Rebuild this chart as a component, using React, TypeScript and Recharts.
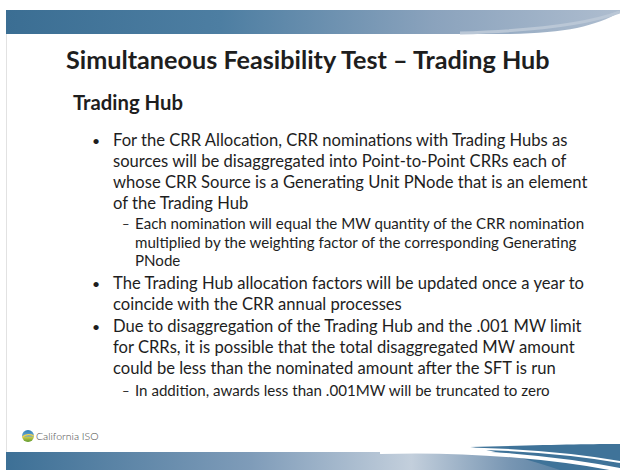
import { ComposedChart, Customized } from 'recharts'

const slideTitle = 'Simultaneous Feasibility Test – Trading Hub'
const sectionTitle = 'Trading Hub'

const bulletAllocation = [
  'For the CRR Allocation, CRR nominations with Trading Hubs as',
  'sources will be disaggregated into Point-to-Point CRRs each of',
  'whose CRR Source is a Generating Unit PNode that is an element',
  'of the Trading Hub',
]
const subNomination = [
  'Each nomination will equal the MW quantity of the CRR nomination',
  'multiplied by the weighting factor of the corresponding Generating',
  'PNode',
]
const bulletFactors = [
  'The Trading Hub allocation factors will be updated once a year to',
  'coincide with the CRR annual processes',
]
const bulletLimit = [
  'Due to disaggregation of the Trading Hub and the .001 MW limit',
  'for CRRs, it is possible that the total disaggregated MW amount',
  'could be less than the nominated amount after the SFT is run',
]
const subTruncate = ['In addition, awards less than .001MW will be truncated to zero']

const logoText = 'California ISO'

const FONT = "Lato, 'Open Sans', sans-serif"
const TEXT = '#1e1e1e'

type Block = { lines: string[]; level: 1 | 2; top: number }

const blocks: Block[] = [
  { lines: bulletAllocation, level: 1, top: 146 },
  { lines: subNomination, level: 2, top: 229 },
  { lines: bulletFactors, level: 1, top: 289 },
  { lines: bulletLimit, level: 1, top: 332 },
  { lines: subTruncate, level: 2, top: 396 },
]

function Slide() {
  return (
    <g>
      <defs>
        <linearGradient id="topBand" x1="0" y1="0" x2="1" y2="0">
          <stop offset="0%" stopColor="#3b6e93" />
          <stop offset="35%" stopColor="#4d7ea2" />
          <stop offset="70%" stopColor="#8ba3bd" />
          <stop offset="100%" stopColor="#aebdcf" />
        </linearGradient>
        <linearGradient id="botBand" x1="0" y1="0" x2="1" y2="0">
          <stop offset="0%" stopColor="#3d7096" />
          <stop offset="40%" stopColor="#7f9cb9" />
          <stop offset="66%" stopColor="#c3cfdc" />
          <stop offset="82%" stopColor="#7896b3" />
          <stop offset="100%" stopColor="#386b91" />
        </linearGradient>
        <linearGradient id="globe" x1="0" y1="0" x2="0" y2="1">
          <stop offset="0%" stopColor="#2f7fb8" />
          <stop offset="50%" stopColor="#6aa8d0" />
          <stop offset="60%" stopColor="#c9c94a" />
          <stop offset="100%" stopColor="#5c9a2e" />
        </linearGradient>
      </defs>
      <rect x={0} y={0} width={620} height={470} fill="#ffffff" />
      <line x1={6.5} y1={34} x2={6.5} y2={452} stroke="#e2e2e2" />
      <path d="M6,10 L620,10 L620,12 C596,26 566,33 510,34 L6,34 Z" fill="url(#topBand)" />
      <path d="M460,33 C535,31 588,24 620,12" fill="none" stroke="#bac7d6" strokeWidth={3} />

      <path d="M6,452 L620,452 L620,470 L6,470 Z" fill="url(#botBand)" />
      <path d="M470,447 C540,445 590,444 620,444 L620,470 L560,470 C530,460 500,452 470,447 Z" fill="#3f7399" />
      <path d="M380,452 C470,449 560,458 620,470" fill="none" stroke="#ffffff" strokeWidth={4} />
      <path d="M430,448 C520,448 580,455 620,462" fill="none" stroke="#ffffff" strokeWidth={2} />

      <text x={66} y={69} fontFamily={FONT} fontWeight={700} fontSize={25.2} fill={TEXT}>
        {slideTitle}
      </text>
      <text x={73} y={110} fontFamily={FONT} fontWeight={700} fontSize={20.3} fill={TEXT}>
        {sectionTitle}
      </text>

      {blocks.map((b, bi) => {
        const size = b.level === 1 ? 16.6 : 15.1
        const step = b.level === 1 ? 21 : 18.5
        const markX = b.level === 1 ? 92 : 122
        const textX = b.level === 1 ? 113 : 135
        return (
          <g key={bi}>
            <text x={markX} y={b.top} fontFamily={FONT} fontSize={b.level === 1 ? 14 : 13} fill={TEXT}>
              {b.level === 1 ? '•' : '–'}
            </text>
            {b.lines.map((line, li) => (
              <text key={li} x={textX} y={b.top + li * step} fontFamily={FONT} fontSize={size} fill={TEXT}>
                {line}
              </text>
            ))}
          </g>
        )
      })}

      <circle cx={28} cy={436} r={6} fill="url(#globe)" />
      <path d="M22.5,437 C25.5,434 30.5,434 34,436" fill="none" stroke="#f3d34a" strokeWidth={1.2} />
      <text x={36} y={440} fontFamily={FONT} fontWeight={300} fontSize={10.5} fill="#454545">
        {logoText}
      </text>
    </g>
  )
}

export default function App() {
  return (
    <div style={{ position: 'absolute', left: 0, top: 0 }}>
      <ComposedChart width={620} height={470} data={[{ v: 0 }]} margin={{ top: 0, right: 0, bottom: 0, left: 0 }}>
        <Customized component={Slide} />
      </ComposedChart>
    </div>
  )
}
